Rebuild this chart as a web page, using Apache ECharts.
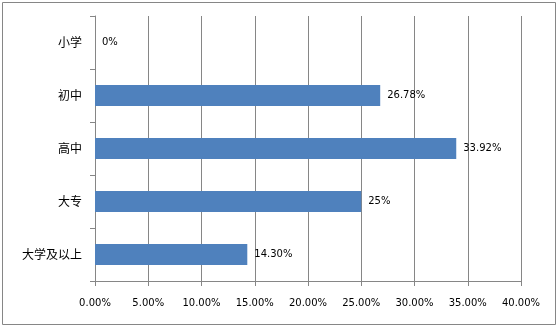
<!DOCTYPE html>
<html><head><meta charset="utf-8">
<script src="https://cdn.jsdelivr.net/npm/echarts@6/dist/echarts.min.js"></script>
<style>html,body{margin:0;padding:0;background:#fff}#c{width:559px;height:328px}</style>
</head><body><div id="c"></div>
<script>
const categories = ['小学', '初中', '高中', '大专', '大学及以上'];
const values = [0, 26.78, 33.92, 25, 14.30];
const valueLabels = ['0%', '26.78%', '33.92%', '25%', '14.30%'];
const xTicks = [0, 5, 10, 15, 20, 25, 30, 35, 40];

const chart = echarts.init(document.getElementById('c'));
const gray = '#868686';
chart.setOption({
  animation: false,
  graphic: [{
    type: 'rect', shape: { x: 2.5, y: 2.5, width: 553, height: 322 },
    style: { fill: 'none', stroke: gray, lineWidth: 1 }, silent: true
  }],
  grid: { left: 95, right: 38, top: 16, bottom: 47 },
  xAxis: {
    type: 'value', min: xTicks[0], max: xTicks[xTicks.length - 1], interval: 5,
    axisLine: { show: true, lineStyle: { color: gray } },
    axisTick: { show: true, length: 5, lineStyle: { color: gray } },
    splitLine: { show: true, lineStyle: { color: gray } },
    axisLabel: { margin: 17, fontSize: 10, color: '#000', fontFamily: 'DejaVu Sans',
      formatter: v => v.toFixed(2) + '%' }
  },
  yAxis: {
    type: 'category', data: categories, inverse: true,
    axisLine: { show: true, lineStyle: { color: gray } },
    axisTick: { show: true, length: 5, lineStyle: { color: gray } },
    axisLabel: { margin: 13, fontSize: 12, color: '#000', fontFamily: 'Noto Sans CJK SC' }
  },
  series: [{
    type: 'bar', data: values, barWidth: 21,
    itemStyle: { color: '#4F81BD' },
    label: { show: true, position: 'right', distance: 7, fontSize: 10, color: '#000',
      fontFamily: 'DejaVu Sans', formatter: p => valueLabels[p.dataIndex] }
  }]
});
</script></body></html>
